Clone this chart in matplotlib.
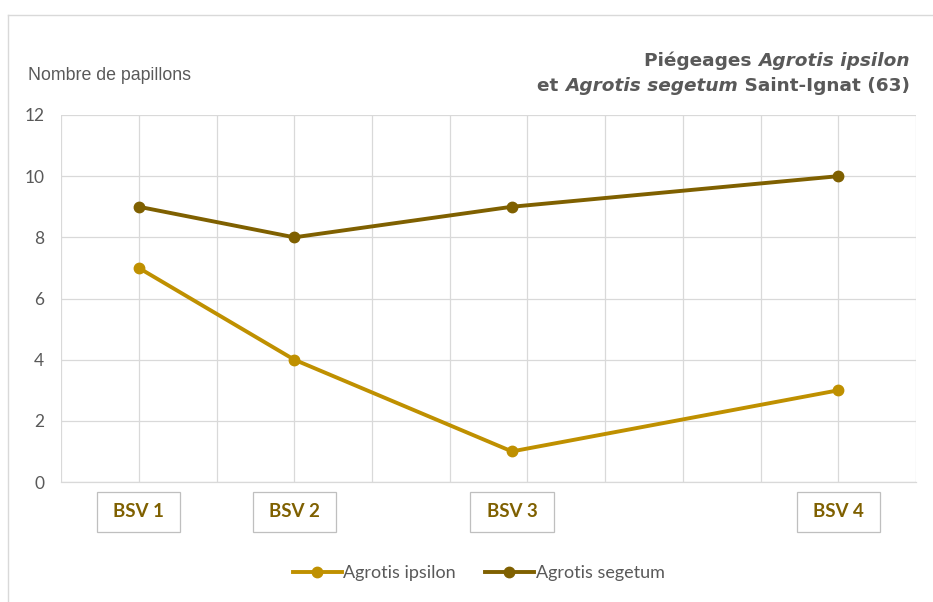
import matplotlib
matplotlib.use("Agg")
import matplotlib.pyplot as plt
from matplotlib.patches import Rectangle
from matplotlib.lines import Line2D
import matplotlib.transforms as mtransforms

plt.rcParams['font.family'] = ['Lato', 'DejaVu Sans']

# data
bsv_labels = ["BSV 1", "BSV 2", "BSV 3", "BSV 4"]
bsv_pos = [1, 3, 5.8, 10]
ipsilon = [7, 4, 1, 3]
segetum = [9, 8, 9, 10]
y_ticks = [0, 2, 4, 6, 8, 10, 12]

col_ipsilon = "#BF9000"
col_segetum = "#7F6000"
grey_txt = "#595959"
grid_col = "#D9D9D9"

fig = plt.figure(figsize=(9.33, 6.02), dpi=100)
ax = fig.add_axes([0.0654, 0.1993, 0.9166, 0.6097])

ax.plot(bsv_pos, ipsilon, color=col_ipsilon, lw=2.8, marker='o', ms=7.5,
        label="Agrotis ipsilon", zorder=3)
ax.plot(bsv_pos, segetum, color=col_segetum, lw=2.8, marker='o', ms=7.5,
        label="Agrotis segetum", zorder=3)

ax.set_xlim(0, 11)
ax.set_ylim(0, 12)
ax.set_xticks(range(0, 12))
ax.set_xticklabels([])
ax.set_yticks(y_ticks)
ax.set_yticklabels([str(v) for v in y_ticks], fontsize=12.5, color=grey_txt)
ax.tick_params(length=0, pad=12)
ax.grid(True, color=grid_col, lw=0.9)
ax.set_axisbelow(True)
for side in ['top', 'right', 'left']:
    ax.spines[side].set_visible(False)
ax.spines['bottom'].set_color(grid_col)
ax.spines['bottom'].set_linewidth(0.9)

# boxed BSV labels under the axis
trans = mtransforms.blended_transform_factory(ax.transData, ax.transAxes)
box_w = 1.07
for lab, xp in zip(bsv_labels, bsv_pos):
    r = Rectangle((xp - box_w / 2, -0.136), box_w, 0.109, transform=trans,
                  fill=False, edgecolor="#BFBFBF", lw=0.9, clip_on=False)
    ax.add_patch(r)
    ax.text(xp, -0.0815, lab, transform=trans, ha='center', va='center',
            fontsize=13.5, fontweight='bold', color=col_segetum)

# y label
fig.text(28 / 933, 1 - 75 / 602, "Nombre de papillons", fontsize=12.8,
         color=grey_txt, va='center', ha='left', family='Liberation Sans')

# title with mixed styles, laid out right to left
def rich_line(parts, x_right, y):
    fig.canvas.draw()
    r = fig.canvas.get_renderer()
    x = x_right
    for txt, style in reversed(parts):
        t = fig.text(x, y, txt, fontsize=13.3, fontweight='bold', style=style,
                     color=grey_txt, ha='right', va='baseline',
                     family='DejaVu Sans')
        bb = t.get_window_extent(renderer=r)
        x = x - bb.width / fig.bbox.width

rich_line([("Piégeages ", 'normal'), ("Agrotis ipsilon", 'italic')],
          910 / 933, 1 - 66 / 602)
rich_line([("et ", 'normal'), ("Agrotis segetum", 'italic'),
           (" Saint-Ignat (63)", 'normal')], 910 / 933, 1 - 91 / 602)

# legend
fig.legend(loc='center', bbox_to_anchor=(0.513, 0.048), ncol=2, frameon=False,
           fontsize=13, handlelength=2.7, columnspacing=1.6, handletextpad=0.1,
           labelcolor=grey_txt)

# outer chart frame
fig.add_artist(Line2D([8 / 933, 1], [1 - 15 / 602] * 2, color="#D9D9D9", lw=1,
                      transform=fig.transFigure))
fig.add_artist(Line2D([8 / 933] * 2, [0, 1 - 15 / 602], color="#D9D9D9", lw=1,
                      transform=fig.transFigure))

fig.savefig("out.png", dpi=100)
